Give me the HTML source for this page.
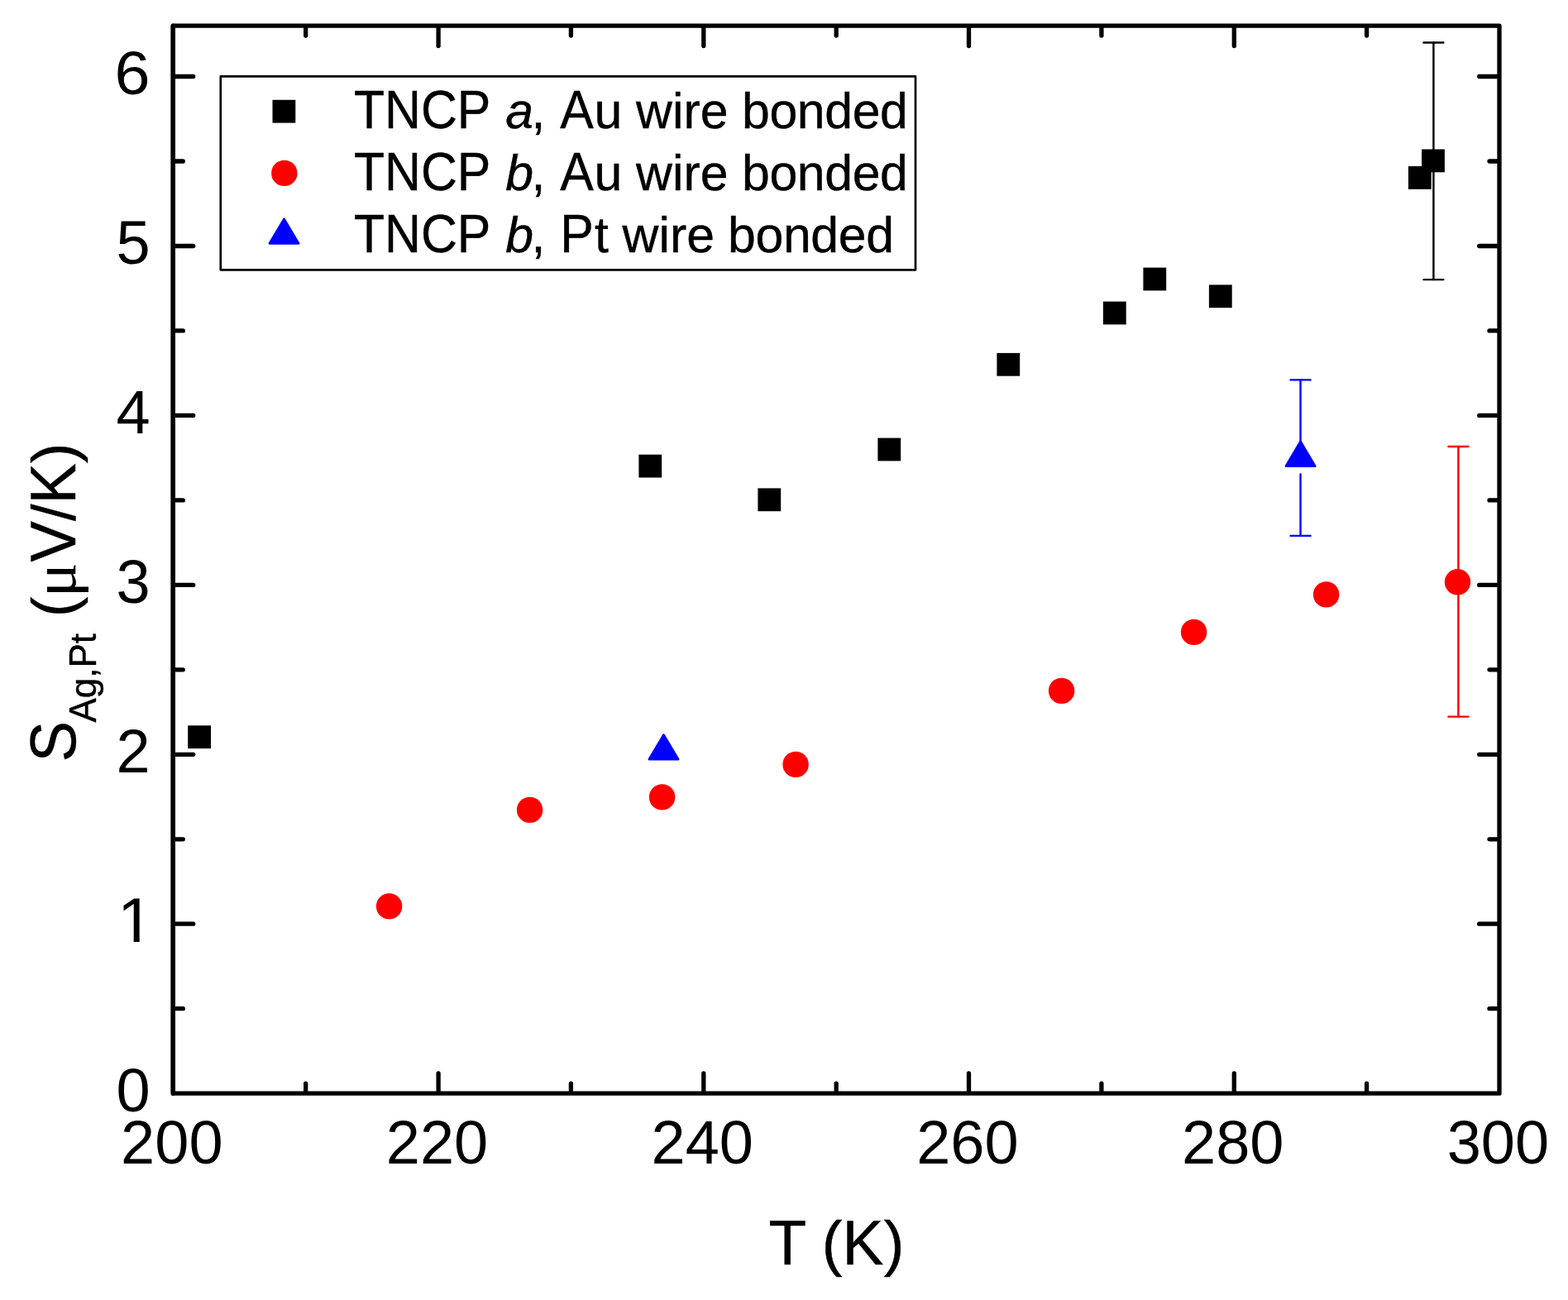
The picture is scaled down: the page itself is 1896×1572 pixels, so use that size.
<!DOCTYPE html>
<html lang="en"><head><meta charset="utf-8"><title>Thermopower of TNCP</title>
<style>html,body{margin:0;padding:0;background:#fff}body{width:1896px;height:1572px;overflow:hidden}svg{display:block}text{font-family:"Liberation Sans",sans-serif;fill:#000;white-space:pre}.mu{font-family:"Liberation Serif","DejaVu Serif",serif;stroke:none}.it{font-style:italic}</style>
</head><body>
<svg width="1896" height="1572" viewBox="0 0 1896 1572">
<rect x="0" y="0" width="1896" height="1572" fill="#fff"/>
<g stroke="#000" stroke-width="2.40" fill="none" stroke-linecap="round"><line x1="1733.40" y1="51.50" x2="1733.40" y2="338.10"/><line x1="1721.45" y1="51.50" x2="1745.35" y2="51.50"/><line x1="1721.45" y1="338.10" x2="1745.35" y2="338.10"/></g>
<g stroke="#f00" stroke-width="2.40" fill="none" stroke-linecap="round"><line x1="1763.40" y1="540.00" x2="1763.40" y2="866.60"/><line x1="1751.45" y1="540.00" x2="1775.35" y2="540.00"/><line x1="1751.45" y1="866.60" x2="1775.35" y2="866.60"/></g>
<g stroke="#00f" stroke-width="2.40" fill="none" stroke-linecap="round"><line x1="1572.55" y1="459.40" x2="1572.55" y2="540.00"/><line x1="1572.55" y1="573.40" x2="1572.55" y2="647.90"/><line x1="1560.60" y1="459.40" x2="1584.50" y2="459.40"/><line x1="1560.60" y1="647.90" x2="1584.50" y2="647.90"/></g>
<g fill="#000">
<rect x="227.2" y="877.3" width="27.8" height="27.8"/>
<rect x="772.4" y="549.7" width="27.8" height="27.8"/>
<rect x="916.4" y="590.4" width="27.8" height="27.8"/>
<rect x="1061.4" y="529.6" width="27.8" height="27.8"/>
<rect x="1205.4" y="426.9" width="27.8" height="27.8"/>
<rect x="1333.9" y="364.6" width="27.8" height="27.8"/>
<rect x="1382.4" y="323.6" width="27.8" height="27.8"/>
<rect x="1461.9" y="344.4" width="27.8" height="27.8"/>
<rect x="1702.9" y="201.0" width="27.8" height="27.8"/>
<rect x="1719.1" y="180.5" width="27.8" height="27.8"/>
</g>
<g fill="#f00">
<circle cx="470.6" cy="1095.9" r="15.7"/>
<circle cx="640.6" cy="979.4" r="15.7"/>
<circle cx="800.6" cy="963.9" r="15.7"/>
<circle cx="962.1" cy="924.4" r="15.7"/>
<circle cx="1283.6" cy="835.4" r="15.7"/>
<circle cx="1443.6" cy="764.4" r="15.7"/>
<circle cx="1603.6" cy="718.9" r="15.7"/>
<circle cx="1762.5" cy="703.8" r="15.7"/>
</g>
<polygon points="802.50,888.45 784.80,918.25 820.20,918.25" fill="#00f" stroke="#00f" stroke-width="2.5" stroke-linejoin="round"/>
<polygon points="1572.55,533.65 1554.85,563.75 1590.25,563.75" fill="#00f" stroke="#00f" stroke-width="2.5" stroke-linejoin="round"/>
<g stroke="#000" stroke-width="5.3" fill="none" stroke-linecap="round" stroke-linejoin="round">
<rect x="209.35" y="31.15" width="1603.65" height="1291.00"/>
<line x1="209.25" y1="31.15" x2="209.25" y2="1322.15" stroke-width="5.5"/>
<line x1="369.7" y1="1321.2" x2="369.7" y2="1310.2"/>
<line x1="369.7" y1="32.1" x2="369.7" y2="43.1"/>
<line x1="530.1" y1="1321.2" x2="530.1" y2="1297.9"/>
<line x1="530.1" y1="32.1" x2="530.1" y2="55.5"/>
<line x1="690.4" y1="1321.2" x2="690.4" y2="1310.2"/>
<line x1="690.4" y1="32.1" x2="690.4" y2="43.1"/>
<line x1="850.8" y1="1321.2" x2="850.8" y2="1297.9"/>
<line x1="850.8" y1="32.1" x2="850.8" y2="55.5"/>
<line x1="1011.2" y1="1321.2" x2="1011.2" y2="1310.2"/>
<line x1="1011.2" y1="32.1" x2="1011.2" y2="43.1"/>
<line x1="1171.5" y1="1321.2" x2="1171.5" y2="1297.9"/>
<line x1="1171.5" y1="32.1" x2="1171.5" y2="55.5"/>
<line x1="1331.9" y1="1321.2" x2="1331.9" y2="1310.2"/>
<line x1="1331.9" y1="32.1" x2="1331.9" y2="43.1"/>
<line x1="1492.3" y1="1321.2" x2="1492.3" y2="1297.9"/>
<line x1="1492.3" y1="32.1" x2="1492.3" y2="55.5"/>
<line x1="1652.6" y1="1321.2" x2="1652.6" y2="1310.2"/>
<line x1="1652.6" y1="32.1" x2="1652.6" y2="43.1"/>
<line x1="210.3" y1="1219.7" x2="221.3" y2="1219.7"/>
<line x1="1812.0" y1="1219.7" x2="1801.0" y2="1219.7"/>
<line x1="210.3" y1="1117.2" x2="233.7" y2="1117.2"/>
<line x1="1812.0" y1="1117.2" x2="1788.7" y2="1117.2"/>
<line x1="210.3" y1="1014.8" x2="221.3" y2="1014.8"/>
<line x1="1812.0" y1="1014.8" x2="1801.0" y2="1014.8"/>
<line x1="210.3" y1="912.3" x2="233.7" y2="912.3"/>
<line x1="1812.0" y1="912.3" x2="1788.7" y2="912.3"/>
<line x1="210.3" y1="809.8" x2="221.3" y2="809.8"/>
<line x1="1812.0" y1="809.8" x2="1801.0" y2="809.8"/>
<line x1="210.3" y1="707.4" x2="233.7" y2="707.4"/>
<line x1="1812.0" y1="707.4" x2="1788.7" y2="707.4"/>
<line x1="210.3" y1="604.9" x2="221.3" y2="604.9"/>
<line x1="1812.0" y1="604.9" x2="1801.0" y2="604.9"/>
<line x1="210.3" y1="502.4" x2="233.7" y2="502.4"/>
<line x1="1812.0" y1="502.4" x2="1788.7" y2="502.4"/>
<line x1="210.3" y1="399.9" x2="221.3" y2="399.9"/>
<line x1="1812.0" y1="399.9" x2="1801.0" y2="399.9"/>
<line x1="210.3" y1="297.5" x2="233.7" y2="297.5"/>
<line x1="1812.0" y1="297.5" x2="1788.7" y2="297.5"/>
<line x1="210.3" y1="195.0" x2="221.3" y2="195.0"/>
<line x1="1812.0" y1="195.0" x2="1801.0" y2="195.0"/>
<line x1="210.3" y1="92.5" x2="233.7" y2="92.5"/>
<line x1="1812.0" y1="92.5" x2="1788.7" y2="92.5"/>
</g>
<g font-size="74" text-anchor="middle">
<text transform="translate(207.8,1406.8) scale(1,1.010)">200</text>
<text transform="translate(528.5,1406.8) scale(1,1.010)">220</text>
<text transform="translate(849.2,1406.8) scale(1,1.010)">240</text>
<text transform="translate(1169.9,1406.8) scale(1,1.010)">260</text>
<text transform="translate(1490.7,1406.8) scale(1,1.010)">280</text>
<text transform="translate(1811.4,1406.8) scale(1,1.010)">300</text>
</g>
<g font-size="74" text-anchor="end">
<text transform="translate(181.6,1344.0) scale(1,1.010)">0</text>
<clipPath id="c1"><rect x="-5" y="-60" width="60" height="54.3"/><rect x="18.55" y="-6" width="6.65" height="6.5"/></clipPath>
<text transform="translate(142.0,1138.8) scale(1.06,1.037)" text-anchor="start" clip-path="url(#c1)">1</text>
<text transform="translate(181.6,934.1) scale(1,1.010)">2</text>
<text transform="translate(181.6,729.1) scale(1,1.010)">3</text>
<text transform="translate(181.6,524.2) scale(1,1.010)">4</text>
<text transform="translate(181.6,319.3) scale(1,1.010)">5</text>
<text transform="translate(181.6,114.3) scale(1.045,1.010)">6</text>
</g>
<text y="1528.6" font-size="74" stroke="#000" stroke-width="0.5"><tspan x="929.6" font-size="76.22" textLength="45.65" lengthAdjust="spacingAndGlyphs">T</tspan><tspan x="973.3"> (</tspan><tspan x="1018.6" font-size="76.22" textLength="49.85" lengthAdjust="spacingAndGlyphs">K</tspan><tspan x="1068.7">)</tspan></text>
<g transform="translate(90.6,921.5) rotate(-90)" font-size="74" stroke="#000" stroke-width="0.4">
<text y="0"><tspan x="0.0" font-size="76.96" textLength="49.36" lengthAdjust="spacingAndGlyphs">S</tspan><tspan y="25.5" font-size="43.9"><tspan x="48.0" font-size="45.66" textLength="29.28" lengthAdjust="spacingAndGlyphs">A</tspan><tspan x="77.3">g,</tspan><tspan x="113.9" font-size="45.66" textLength="29.28" lengthAdjust="spacingAndGlyphs">P</tspan><tspan x="143.2">t</tspan></tspan><tspan x="154.6" y="0"> (</tspan><tspan class="mu" x="199.3" font-size="74" textLength="42.1" lengthAdjust="spacingAndGlyphs">μ</tspan><tspan x="242.0" font-size="76.96" textLength="49.36" lengthAdjust="spacingAndGlyphs">V</tspan><tspan x="291.4">/</tspan><tspan x="311.9" font-size="76.96" textLength="49.36" lengthAdjust="spacingAndGlyphs">K</tspan><tspan x="361.3">)</tspan></text>
</g>
<rect x="266.8" y="92.4" width="840.2" height="233.9" fill="#fff" stroke="#000" stroke-width="2.7" stroke-linejoin="round"/>
<rect x="329.5" y="120.8" width="27.8" height="27.8" fill="#000"/>
<circle cx="343.8" cy="209.4" r="15.7" fill="#f00"/>
<polygon points="343.50,264.55 325.80,294.45 361.20,294.45" fill="#00f" stroke="#00f" stroke-width="2.5" stroke-linejoin="round"/>
<g font-size="60.8" stroke="#000" stroke-width="0.4">
<text y="154.9"><tspan x="427.9" font-size="64.45" textLength="165.51" lengthAdjust="spacingAndGlyphs">TNCP</tspan><tspan x="593.2"> </tspan><tspan class="it" x="611.3">a</tspan><tspan x="642.6">, </tspan><tspan x="677.2" font-size="64.45" textLength="40.55" lengthAdjust="spacingAndGlyphs">A</tspan><tspan x="718.4">u </tspan><tspan x="769.0">wire </tspan><tspan x="897.0" textLength="200.9">bonded</tspan></text>
<text y="229.8"><tspan x="427.9" font-size="64.45" textLength="165.51" lengthAdjust="spacingAndGlyphs">TNCP</tspan><tspan x="593.2"> </tspan><tspan class="it" x="611.3">b</tspan><tspan x="642.6">, </tspan><tspan x="677.2" font-size="64.45" textLength="40.55" lengthAdjust="spacingAndGlyphs">A</tspan><tspan x="718.4">u </tspan><tspan x="769.0">wire </tspan><tspan x="897.0" textLength="200.9">bonded</tspan></text>
<text y="304.7"><tspan x="427.9" font-size="64.45" textLength="165.51" lengthAdjust="spacingAndGlyphs">TNCP</tspan><tspan x="593.2"> </tspan><tspan class="it" x="611.3">b</tspan><tspan x="642.6">, </tspan><tspan x="677.2" font-size="64.45" textLength="40.55" lengthAdjust="spacingAndGlyphs">P</tspan><tspan x="718.9">t </tspan><tspan x="752.6">wire </tspan><tspan x="880.1" textLength="200.9">bonded</tspan></text>
</g>
</svg>
</body></html>
